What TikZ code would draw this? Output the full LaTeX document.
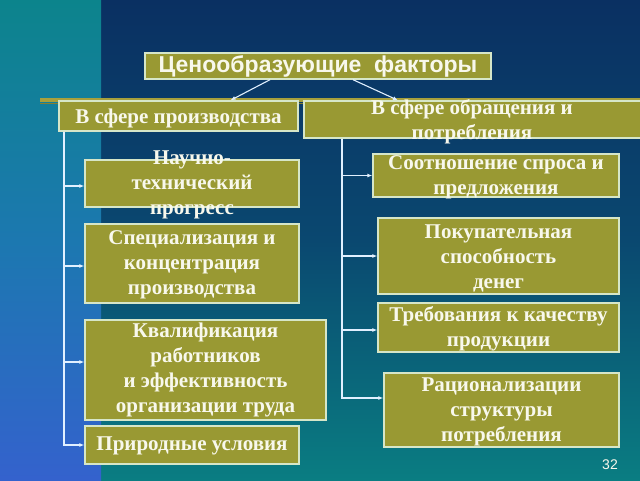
\documentclass[tikz,border=0pt]{standalone}
\usepackage{fontspec}
\setmainfont{Liberation Serif}
\newfontfamily\titlefont{Liberation Sans}
\usetikzlibrary{arrows.meta}
\definecolor{navytop}{RGB}{10,48,98}
\definecolor{navymid}{RGB}{10,72,112}
\definecolor{tealbot}{RGB}{10,125,130}
\definecolor{striptop}{RGB}{12,132,140}
\definecolor{stripmid}{RGB}{28,120,176}
\definecolor{stripbot}{RGB}{52,98,205}
\definecolor{olivebox}{RGB}{153,153,51}
\definecolor{oliveband}{RGB}{168,160,60}
\definecolor{boxedge}{RGB}{214,230,200}
\definecolor{txtwhite}{RGB}{248,248,236}
\definecolor{linewhite}{RGB}{225,240,255}
\tikzset{
  box/.style={draw=boxedge, line width=1.4pt, fill=olivebox, inner sep=0pt},
  txt/.style={text=txtwhite, font=\bfseries\fontsize{21}{25}\selectfont, align=center, inner sep=0pt},
  conn/.style={draw=linewhite, line width=1.1pt, -{Latex[length=5pt,width=4pt]}},
}
\begin{document}
\begin{tikzpicture}[x=1pt,y=-1pt]
\useasboundingbox (0,0) rectangle (640,480);
% background
\shade[top color=navytop, bottom color=tealbot, middle color=navymid] (101,0) rectangle (640,480);
\shade[top color=striptop, bottom color=stripbot, middle color=stripmid] (0,0) rectangle (101,480);
\fill[oliveband] (40,98) rectangle (640,102);
\fill[oliveband!80!black] (40,102.5) rectangle (640,104);
% title
\node[box, minimum width=346, minimum height=26] (T) at (318,66) {};
\node[text=txtwhite, font=\titlefont\bfseries\fontsize{23}{26}\selectfont, inner sep=0pt] (Tt) at (318,66) {Ценообразующие~ факторы};
% level 2
\node[box, minimum width=239, minimum height=30] (L) at (178.5,116) {};
\node[txt] (Lt) at (178.5,118) {В сфере производства};
\node[box, minimum width=350, minimum height=37] (R) at (479,119.5) {};
\node[txt] (Rt) at (472,121.5) {В сфере обращения и\\потребления};
% left children
\node[box, minimum width=214, minimum height=47] (n1) at (192,183.5) {};
\node[txt] (n1t) at (192,185) {Научно-\\технический\\прогресс};
\node[box, minimum width=214, minimum height=79] (n2) at (192,263.5) {};
\node[txt] (n2t) at (192,265) {Специализация и\\концентрация\\производства};
\node[box, minimum width=241, minimum height=100] (n3) at (205.5,370) {};
\node[txt] (n3t) at (205.5,370) {Квалификация\\работников\\и эффективность\\организации труда};
\node[box, minimum width=214, minimum height=38] (n4) at (192,445) {};
\node[txt] (n4t) at (192,446) {Природные условия};
% right children
\node[box, minimum width=246, minimum height=43] (m1) at (496,175.5) {};
\node[txt] (m1t) at (496,177) {Соотношение спроса и\\предложения};
\node[box, minimum width=241, minimum height=76] (m2) at (498.5,256) {};
\node[txt] (m2t) at (498.5,258) {Покупательная\\способность\\денег};
\node[box, minimum width=241, minimum height=49] (m3) at (498.5,327.5) {};
\node[txt] (m3t) at (498.5,328.5) {Требования к качеству\\продукции};
\node[box, minimum width=235, minimum height=74] (m4) at (501.5,410) {};
\node[txt] (m4t) at (501.5,411.5) {Рационализации\\структуры\\потребления};
% connectors from title
\draw[conn] ([xshift=-48pt]T.south) -- ([xshift=52pt]L.north);
\draw[conn] ([xshift=35pt]T.south) -- ([xshift=-81pt]R.north);
% left tree
\coordinate (lt) at (64,131.5);
\draw[conn] (lt) |- ([yshift=-2.5pt]n1.west);
\draw[conn] (lt) |- ([yshift=-2.5pt]n2.west);
\draw[conn] (lt) |- ([yshift=8pt]n3.west);
\draw[conn] (lt) |- (n4.west);
% right tree
\coordinate (rt) at (342,138.5);
\draw[conn] (rt) |- (m1.west);
\draw[conn] (rt) |- (m2.west);
\draw[conn] (rt) |- ([yshift=-2.5pt]m3.west);
\draw[conn] (rt) |- ([yshift=12pt]m4.west);
% page number
\node[text=txtwhite, font=\titlefont\fontsize{14}{16}\selectfont, inner sep=0pt] (pg) at (610,465) {32};
\end{tikzpicture}
\end{document}
